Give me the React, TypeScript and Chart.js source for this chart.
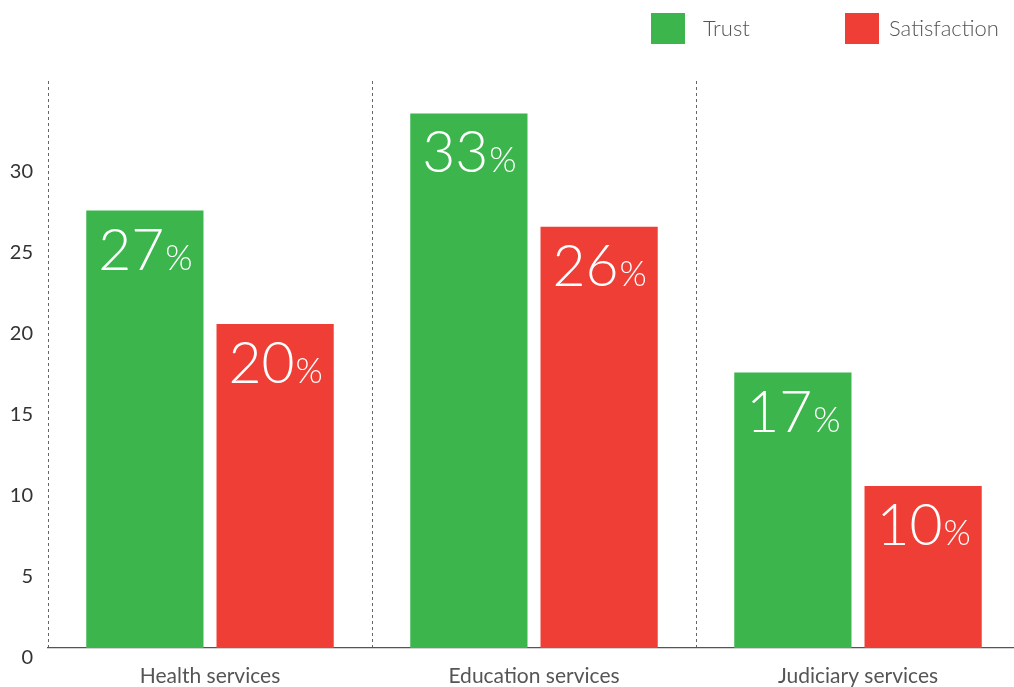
import React, { useEffect, useRef } from "react";
import { Chart, registerables } from "chart.js";

Chart.register(...registerables);

const categories = ["Health services", "Education services", "Judiciary services"];
const trustValues = [27, 33, 17];
const satisfactionValues = [20, 26, 10];
const seriesNames = ["Trust", "Satisfaction"];
const yTicks = [0, 5, 10, 15, 20, 25, 30];

const GREEN = "#3bb54c";
const RED = "#ef3e36";
const FONT = "Lato, 'Open Sans', sans-serif";

const legendPlugin = {
  id: "customLegend",
  afterDraw(chart: any) {
    const ctx = chart.ctx;
    const boxX = [651, 845];
    const textX = [703, 889];
    ctx.save();
    chart.data.datasets.forEach((ds: any, i: number) => {
      ctx.fillStyle = ds.backgroundColor;
      ctx.fillRect(boxX[i], 13, 34, 31);
      ctx.fillStyle = "#555";
      ctx.font = `300 22px ${FONT}`;
      ctx.textAlign = "left";
      ctx.textBaseline = "middle";
      ctx.fillText(ds.label, textX[i], 29);
    });
    ctx.restore();
  },
};

const valueLabelPlugin = {
  id: "valueLabels",
  afterDatasetsDraw(chart: any) {
    const ctx = chart.ctx;
    ctx.save();
    chart.data.datasets.forEach((ds: any, di: number) => {
      const meta = chart.getDatasetMeta(di);
      meta.data.forEach((bar: any, i: number) => {
        const num = String(ds.data[i]);
        ctx.font = `300 57px ${FONT}`;
        const w1 = ctx.measureText(num).width;
        ctx.font = `300 35px ${FONT}`;
        const w2 = ctx.measureText("%").width;
        const left = bar.x - (w1 + w2) / 2;
        const baseline = bar.y + 59;
        ctx.fillStyle = "#ffffff";
        ctx.textAlign = "left";
        ctx.textBaseline = "alphabetic";
        ctx.font = `300 57px ${FONT}`;
        ctx.fillText(num, left, baseline);
        ctx.font = `300 35px ${FONT}`;
        ctx.fillText("%", left + w1 + 1, baseline);
      });
    });
    ctx.restore();
  },
};

export default function App() {
  const ref = useRef<HTMLCanvasElement>(null);

  useEffect(() => {
    if (!ref.current) return;
    const chart = new Chart(ref.current, {
      type: "bar",
      data: {
        labels: categories,
        datasets: [
          {
            label: seriesNames[0],
            data: trustValues,
            backgroundColor: GREEN,
            categoryPercentage: 0.804,
            barPercentage: 0.9,
          },
          {
            label: seriesNames[1],
            data: satisfactionValues,
            backgroundColor: RED,
            categoryPercentage: 0.804,
            barPercentage: 0.9,
          },
        ],
      },
      options: {
        responsive: false,
        animation: false,
        layout: { padding: { top: 81, left: 0, right: 0, bottom: 0 } },
        plugins: {
          legend: { display: false },
          tooltip: { enabled: false },
        },
        scales: {
          x: {
            offset: true,
            grid: {
              display: true,
              offset: true,
              color: "#666",
              lineWidth: 1,
              drawTicks: false,
            },
            border: { display: true, color: "#555", width: 1.3, dash: [3, 3] },
            ticks: {
              color: "#555",
              font: { family: FONT, size: 21, weight: "400" as any },
              padding: 16,
            },
            afterFit(scale: any) {
              scale.height = 39;
              scale.paddingLeft = 0;
              scale.paddingRight = 0;
            },
          },
          y: {
            min: 0,
            max: 35,
            afterBuildTicks(scale: any) {
              scale.ticks = yTicks.map((v) => ({ value: v }));
            },
            grid: { display: false, drawTicks: false },
            border: { display: false },
            ticks: {
              color: "#333",
              font: { family: FONT, size: 20 },
              padding: 15,
              labelOffset: 10,
            },
            afterFit(scale: any) {
              scale.width = 48;
              scale.paddingTop = 0;
              scale.paddingBottom = 0;
            },
          },
        },
      },
      plugins: [legendPlugin, valueLabelPlugin],
    });
    return () => chart.destroy();
  }, []);

  return (
    <div style={{ position: "absolute", left: 0, top: 0, width: 1014, height: 687, overflow: "hidden" }}>
      <canvas ref={ref} width={1020} height={687} style={{ display: "block" }} />
    </div>
  );
}
